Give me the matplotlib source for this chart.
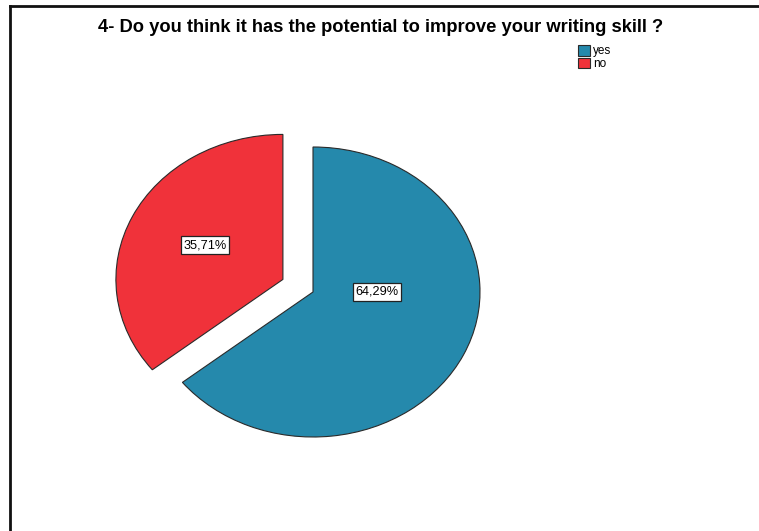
import matplotlib
matplotlib.use("Agg")
import matplotlib.pyplot as plt
from matplotlib.lines import Line2D

categories = ["yes", "no"]
values = [64.29, 35.71]
pct_labels = ["64,29%", "35,71%"]
colors = ["#2589AC", "#F0323A"]
explode = [0, 0.2]
title = "4- Do you think it has the potential to improve your writing skill ?"

plt.rcParams['font.family'] = ['Liberation Sans', 'DejaVu Sans']

W, H = 759, 531
fig = plt.figure(figsize=(W / 100, H / 100), dpi=100)

# axes such that pie radius 1 => 167 px horizontally, 145 px vertically, center (313, 292)
cx, cy, rx, ry = 313, 292, 167, 145
L, M = 1.8, 1.6
left = (cx - L * rx) / W
bottom = (H - cy - M * ry) / H
ax = fig.add_axes([left, bottom, 2 * L * rx / W, 2 * M * ry / H])

wedges, _ = ax.pie(values, colors=colors, explode=explode, startangle=90,
                   counterclock=False,
                   wedgeprops=dict(edgecolor="#2a2a2a", linewidth=0.8))
ax.set_xlim(-L, L)
ax.set_ylim(-M, M)
ax.set_aspect('auto')
ax.axis('off')

label_pos = [(0.383, 0.0), (-0.647, 0.324)]
for (x, y), t in zip(label_pos, pct_labels):
    ax.text(x, y, t, ha='center', va='center', fontsize=9.2,
            bbox=dict(boxstyle='square,pad=0.22', facecolor='white',
                      edgecolor='#222222', linewidth=0.9))

fig.text(381 / W, 1 - 27 / H, title, ha='center', va='center',
         fontsize=13.2, fontweight='bold')

leg = fig.legend(wedges, categories, loc='upper left',
                 bbox_to_anchor=(578 / W, 1 - 45 / H), frameon=False,
                 fontsize=8.5, handlelength=1.05, handleheight=1.0,
                 handletextpad=0.25, labelspacing=0.05, borderpad=0,
                 borderaxespad=0)

# outer frame lines (top and left)
fig.add_artist(Line2D([10 / W, 1], [1 - 6 / H, 1 - 6 / H], transform=fig.transFigure,
                      color='#111111', linewidth=2))
fig.add_artist(Line2D([10 / W, 10 / W], [0, 1 - 6 / H], transform=fig.transFigure,
                      color='#111111', linewidth=2))

fig.savefig("out.png", dpi=100)
